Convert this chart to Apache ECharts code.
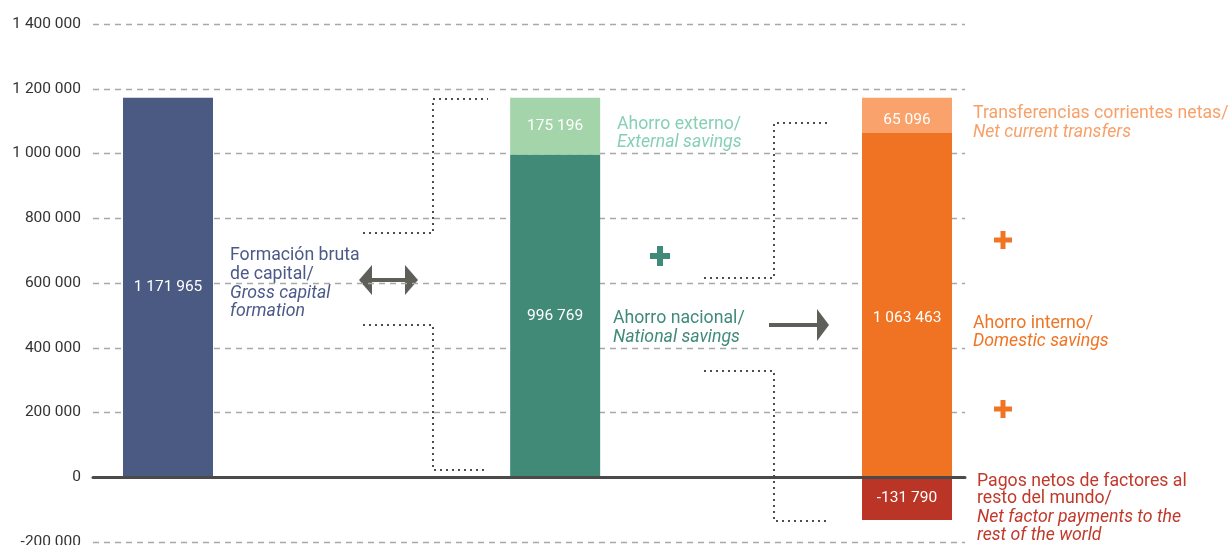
<!DOCTYPE html>
<html>
<head>
<meta charset="utf-8">
<script src="https://cdn.jsdelivr.net/npm/echarts@6/dist/echarts.min.js"></script>
<style>
  html, body { margin: 0; padding: 0; background: #fff; }
  #chart { width: 1230px; height: 545px; }
</style>
</head>
<body>
<div id="chart"></div>
<script>
// data
const categories = ['Formación bruta de capital', 'Ahorro nacional + externo', 'Ahorro interno']
const grossCapital = [1171965, null, null]
const nationalSavings = [null, 996769, null]
const externalSavings = [null, 175196, null]
const domesticSavings = [null, null, 1063463]
const netTransfersDrawn = [null, null, 108502] // segment is drawn up to the common top
const netTransfersValue = [null, null, 65096]
const netFactorPayments = [null, null, -131790]
const yTicks = [-200000, 0, 200000, 400000, 600000, 800000, 1000000, 1200000, 1400000]

// layout: where each category column sits on a 0..100 hidden axis
const slots = [8.6, 53.0, 93.35]
const BAR_W = 90

const FONT = 'Roboto, "Liberation Sans", sans-serif'

const fmt = (v) => {
  const s = String(Math.abs(v)).replace(/\B(?=(\d{3})+(?!\d))/g, ' ')
  return v < 0 ? '-' + s : s
}

// stack the segments column by column (positives up, negatives down)
const posBase = categories.map(() => 0)
const negBase = categories.map(() => 0)
const stackSegment = (values, labels) =>
  values
    .map((v, i) => {
      if (v === null) return null
      const base = v >= 0 ? posBase : negBase
      const start = base[i]
      base[i] += v
      return [slots[i], start, base[i], (labels || values)[i]]
    })
    .filter((d) => d)

const segSeries = (name, values, color, labels, offset) => ({
  type: 'custom',
  name,
  data: stackSegment(values, labels),
  renderItem: (params, api) => {
    const p0 = api.coord([api.value(0), api.value(1)])
    const p1 = api.coord([api.value(0), api.value(2)])
    return {
      type: 'rect',
      shape: {
        x: p0[0] - BAR_W / 2,
        y: Math.min(p0[1], p1[1]),
        width: BAR_W,
        height: Math.abs(p1[1] - p0[1]),
      },
      style: { fill: color },
      textContent: {
        style: { text: fmt(api.value(3)), fill: '#fff', font: '15.5px ' + FONT },
      },
      textConfig: { position: 'inside', offset: offset || [0, 0] },
    }
  },
})

// annotation text, one element per line
const textLines = (x, lines, color) =>
  lines.map(([y, txt, italic]) => ({
    type: 'text',
    x,
    y,
    style: {
      text: txt,
      fill: color,
      font: (italic ? 'italic ' : '') + '17.7px ' + FONT,
      verticalAlign: 'middle',
      align: 'left',
    },
  }))

const dotted = (points) => ({
  type: 'polyline',
  shape: { points },
  style: { stroke: '#4d4d4d', lineWidth: 2, lineDash: [2, 4], fill: null },
})

const plus = (cx, cy, size, thick, color) => [
  { type: 'rect', shape: { x: cx - size / 2, y: cy - thick / 2, width: size, height: thick }, style: { fill: color } },
  { type: 'rect', shape: { x: cx - thick / 2, y: cy - size / 2, width: thick, height: size }, style: { fill: color } },
]

const arrowColor = '#5d5f58'

const graphics = [
  dotted([[363, 233], [433, 233], [433, 99], [488, 99]]),
  dotted([[363, 325], [433, 325], [433, 470], [488, 470]]),
  dotted([[704, 278], [774, 278], [774, 123], [830, 123]]),
  dotted([[704, 371], [774, 371], [774, 521], [830, 521]]),
  // double arrow
  { type: 'rect', shape: { x: 368, y: 278, width: 42, height: 4 }, style: { fill: arrowColor } },
  { type: 'polygon', shape: { points: [[359, 280], [372, 265], [372, 295]] }, style: { fill: arrowColor } },
  { type: 'polygon', shape: { points: [[418, 280], [405, 265], [405, 295]] }, style: { fill: arrowColor } },
  // right arrow
  { type: 'rect', shape: { x: 769, y: 323, width: 50, height: 4 }, style: { fill: arrowColor } },
  { type: 'polygon', shape: { points: [[829, 325], [817, 309], [817, 341]] }, style: { fill: arrowColor } },
  ...plus(660, 256, 20, 6, '#3f8a78'),
  ...plus(1003, 240, 18, 5, '#f07423'),
  ...plus(1003, 409, 18, 5, '#f07423'),
  ...textLines(230, [[256, 'Formación bruta'], [275, 'de capital/'], [294, 'Gross capital', true], [312, 'formation', true]], '#4b5a88'),
  ...textLines(617, [[125, 'Ahorro externo/'], [143, 'External savings', true]], '#86d0b4'),
  ...textLines(613, [[319, 'Ahorro nacional/'], [338, 'National savings', true]], '#3f8a78'),
  ...textLines(973, [[114, 'Transferencias corrientes netas/'], [133, 'Net current transfers', true]], '#f8a068'),
  ...textLines(973, [[324, 'Ahorro interno/'], [342, 'Domestic savings', true]], '#f07423'),
  ...textLines(977, [[482, 'Pagos netos de factores al'], [499, 'resto del mundo/'], [518, 'Net factor payments to the', true], [536, 'rest of the world', true]], '#c0392b'),
]

const chart = echarts.init(document.getElementById('chart'))
chart.setOption({
  animation: false,
  backgroundColor: '#fff',
  grid: { left: 93, right: 265, top: 24, bottom: 3, outerBoundsMode: 'none' },
  xAxis: {
    type: 'value',
    min: 0,
    max: 100,
    z: 5,
    axisLine: { show: true, onZero: true, lineStyle: { color: '#4a4a4a', width: 3 } },
    axisTick: { show: false },
    axisLabel: { show: false },
    splitLine: { show: false },
  },
  yAxis: {
    type: 'value',
    min: yTicks[0],
    max: yTicks[yTicks.length - 1],
    interval: yTicks[1] - yTicks[0],
    axisLine: { show: false },
    axisTick: { show: false },
    axisLabel: { color: '#333', fontFamily: FONT, fontSize: 15.5, margin: 12, formatter: fmt },
    splitLine: { lineStyle: { color: '#a8a8a8', type: [6, 5], width: 1.3 } },
  },
  series: [
    segSeries(categories[0], grossCapital, '#4a5a82'),
    segSeries('Ahorro nacional', nationalSavings, '#418a77'),
    segSeries('Ahorro externo', externalSavings, '#a3d4aa'),
    segSeries('Ahorro interno', domesticSavings, '#f07323', null, [0, 13]),
    segSeries('Transferencias corrientes netas', netTransfersDrawn, '#f9a26c', netTransfersValue, [0, 5]),
    segSeries('Pagos netos de factores', netFactorPayments, '#bb3527'),
  ],
  graphic: graphics,
})
</script>
</body>
</html>
